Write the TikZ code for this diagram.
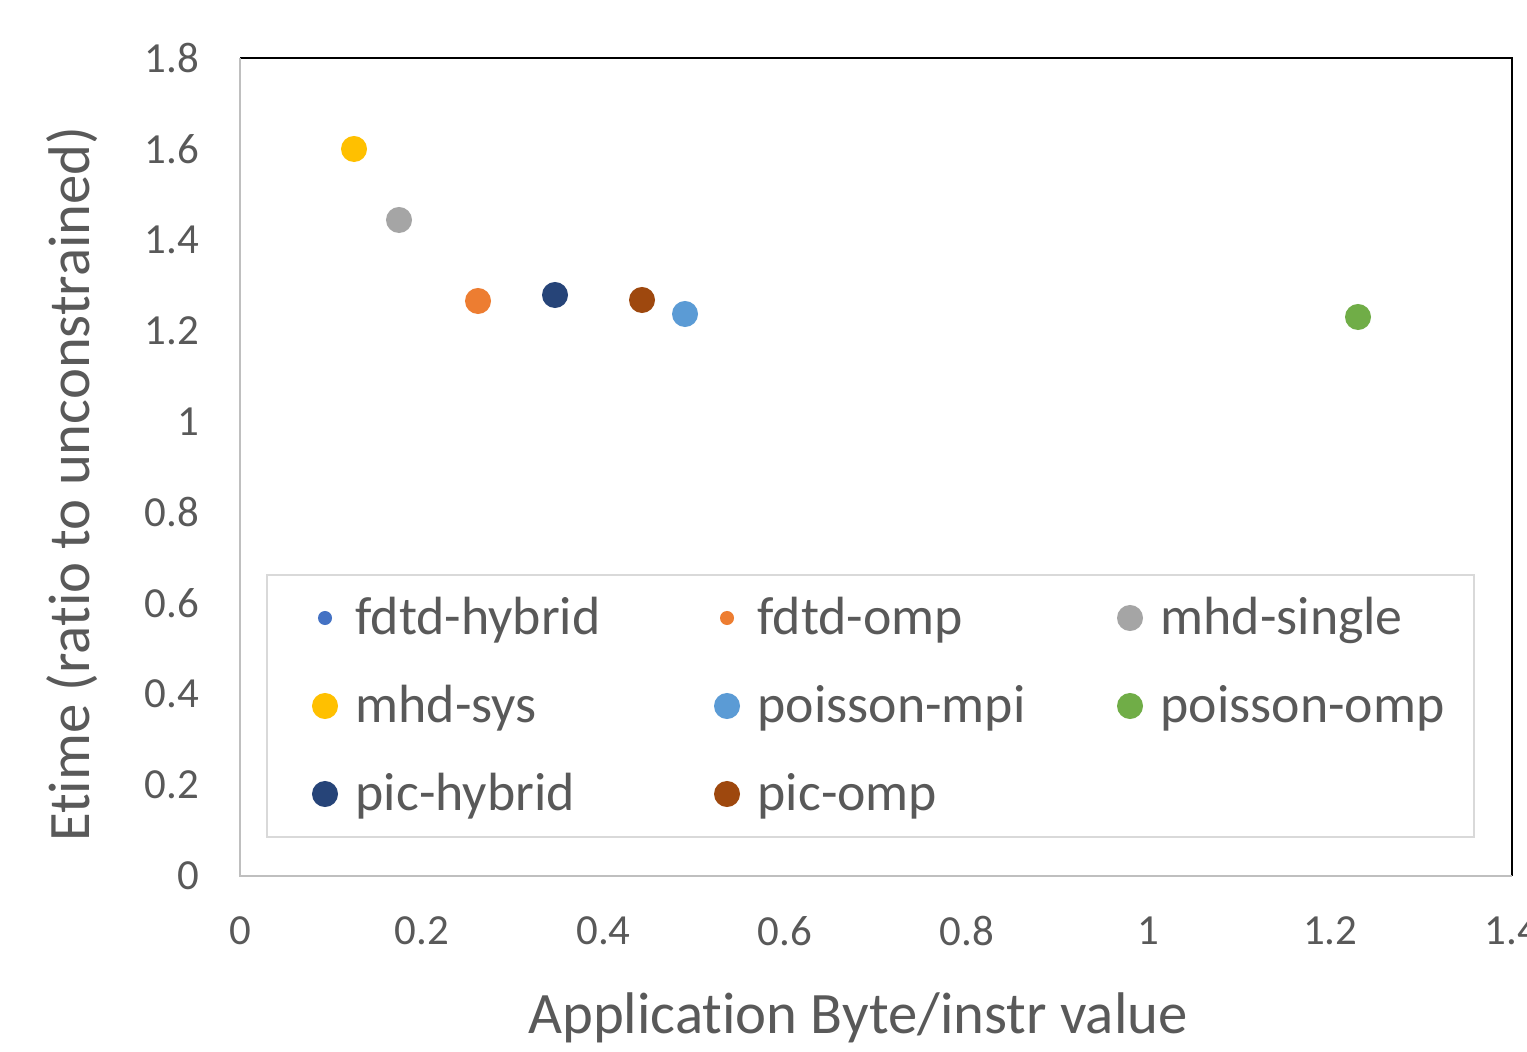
\documentclass[tikz,border=0pt]{standalone}
\usepackage{fontspec}
\setmainfont{Carlito}[Ligatures={NoCommon}]
\definecolor{txt}{HTML}{595959}
\definecolor{axisgray}{HTML}{BFBFBF}
\definecolor{leggray}{HTML}{D9D9D9}
\definecolor{cfdtdh}{HTML}{4472C4}
\definecolor{cfdtdo}{HTML}{ED7D31}
\definecolor{cmhds}{HTML}{A5A5A5}
\definecolor{cmhdsys}{HTML}{FFC000}
\definecolor{cpoim}{HTML}{5B9BD5}
\definecolor{cpoio}{HTML}{70AD47}
\definecolor{cpich}{HTML}{264478}
\definecolor{cpico}{HTML}{9E480E}
\begin{document}
\begin{tikzpicture}[x=0.01cm,y=-0.01cm,
  ticklab/.style={text=txt,font=\fontsize{12.2}{14}\selectfont,inner sep=0pt},
  legtext/.style={text=txt,font=\fontsize{15.3}{18}\selectfont,inner sep=0pt,anchor=base west},
  dot/.style={circle,inner sep=0pt,minimum size=0.26cm},
  smalldot/.style={circle,inner sep=0pt,minimum size=0.14cm},
  axistitle/.style={text=txt,font=\fontsize{16.7}{20}\selectfont,inner sep=0pt}]
\clip (0,0) rectangle (1527,1052);
\fill[white] (0,0) rectangle (1527,1052);
% frame
\coordinate (bl) at (240,876);
\coordinate (tl) at (240,58);
\coordinate (tr) at (1512,58);
\coordinate (br) at (1512,876);
\draw[black,line width=0.02cm] (tl) -- (tr) -- (br);
\draw[axisgray,line width=0.02cm] (tl) -- (bl) -- (br);
% y tick labels
\foreach \v/\lab in {0/0,0.2/0.2,0.4/0.4,0.6/0.6,0.8/0.8,1/1,1.2/1.2,1.4/1.4,1.6/1.6,1.8/1.8}{
  \node[ticklab,anchor=east] (yl\lab) at (200,{876-454.44*\v}) {\lab};
}
% x tick labels
\foreach \v/\lab in {0/0,0.2/0.2,0.4/0.4,0.6/0.6,0.8/0.8,1/1,1.2/1.2,1.4/1.4}{
  \node[ticklab,anchor=center] (xl\lab) at ({240+908.57*\v},931) {\lab};
}
% axis titles
\node[axistitle] (xtitle) at (858,1018) {Application Byte/instr value};
\node[axistitle,rotate=90] (ytitle) at (72,484) {Etime (ratio to unconstrained)};
% data points
\node[dot,fill=cmhdsys] (p1) at (354,149) {};
\node[dot,fill=cmhds] (p2) at (399,220) {};
\node[dot,fill=cfdtdo] (p3) at (478,301) {};
\node[dot,fill=cpich] (p4) at (555,295) {};
\node[dot,fill=cpico] (p5) at (642,300) {};
\node[dot,fill=cpoim] (p6) at (685,314) {};
\node[dot,fill=cpoio] (p7) at (1358,317) {};
% legend
\draw[leggray,line width=0.015cm,fill=white] (267,575) rectangle (1474,837);
\node[smalldot,fill=cfdtdh] (m1) at (325,618) {};
\node[legtext] (t1) at (355,634) {fdtd-hybrid};
\node[smalldot,fill=cfdtdo] (m2) at (727,618) {};
\node[legtext] (t2) at (757,634) {fdtd-omp};
\node[dot,fill=cmhds] (m3) at (1130,618) {};
\node[legtext] (t3) at (1160,634) {mhd-single};
\node[dot,fill=cmhdsys] (m4) at (325,706) {};
\node[legtext] (t4) at (355,722) {mhd-sys};
\node[dot,fill=cpoim] (m5) at (727,706) {};
\node[legtext] (t5) at (757,722) {poisson-mpi};
\node[dot,fill=cpoio] (m6) at (1130,706) {};
\node[legtext] (t6) at (1160,722) {poisson-omp};
\node[dot,fill=cpich] (m7) at (325,794) {};
\node[legtext] (t7) at (355,810) {pic-hybrid};
\node[dot,fill=cpico] (m8) at (727,794) {};
\node[legtext] (t8) at (757,810) {pic-omp};
\end{tikzpicture}
\end{document}
